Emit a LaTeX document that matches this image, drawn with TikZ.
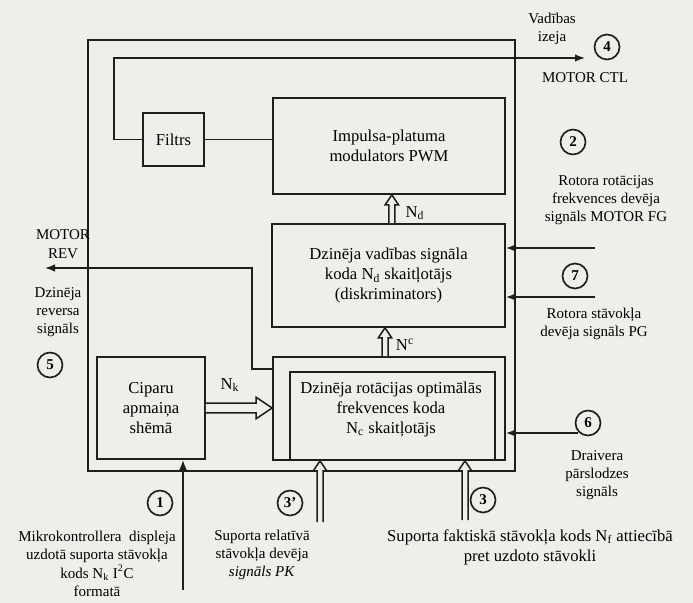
\documentclass[tikz,border=0pt]{standalone}
\usepackage{fontspec}
\setmainfont{Liberation Serif}
\usepackage{tikz}
\usetikzlibrary{arrows.meta,calc}
\definecolor{paper}{RGB}{238,238,235}
\definecolor{ink}{RGB}{30,30,30}
\tikzset{
  block/.style={rectangle,draw=ink,line width=1pt,align=center,inner sep=2pt},
  num/.style={circle,draw=ink,line width=1pt,minimum size=15pt,inner sep=0pt,font=\small\bfseries},
  sig/.style={-{Latex[length=6pt,width=4.5pt]},line width=0.9pt,draw=ink},
  wire/.style={line width=0.9pt,draw=ink},
  bus/.style={line width=0.9pt,draw=ink,fill=paper,line join=miter},
  note/.style={align=center,font=\small,inner sep=0pt},
}
% hollow bus arrow from #2 to #3, #1 = size factor
\newcommand{\busarrow}[3][1]{%
  \path ($(#3)!#1*6pt!(#2)$) coordinate (bh);
  \draw[bus] ($(#2)!#1*1.8pt!90:(#3)$) -- ($(bh)!#1*1.8pt!-90:(#2)$)
    -- ($(bh)!#1*4pt!-90:(#2)$) -- (#3) -- ($(bh)!#1*4pt!90:(#2)$)
    -- ($(bh)!#1*1.8pt!90:(#2)$) -- ($(#2)!#1*1.8pt!-90:(#3)$);}
\begin{document}
\begin{tikzpicture}[x=0.6pt,y=-0.6pt]
\fill[paper] (0,0) rectangle (693,603);
\useasboundingbox (0,0) rectangle (693,603);

% --- outer frame ---
\node[rectangle,draw=ink,line width=1pt,minimum width=256.2pt,minimum height=258.6pt] (frame) at (301.5,255.5) {};

% --- blocks ---
\node[block,minimum width=36.6pt,minimum height=31.8pt] (filtrs) at (173.5,139.5) {Filtrs};
\node[block,minimum width=139.2pt,minimum height=57.6pt] (pwm) at (389,146) {Impulsa-platuma\\modulators PWM};
\node[block,minimum width=139.8pt,minimum height=61.8pt] (discr) at (388.5,275.5) {Dzinēja vadības signāla\\koda N\textsubscript{d} skaitļotājs\\(diskriminators)};
\node[block,minimum width=64.8pt,minimum height=61.2pt] (ciparu) at (151,408) {Ciparu\\apmaiņa\\shēmā};
\node[block,minimum width=139.2pt,minimum height=61.8pt] (ncbox) at (389,408.5) {};
\node[block,minimum width=123pt,minimum height=52.8pt] (ncin) at (392.5,416) {};
\node[align=center] (nctext) at (391,409) {Dzinēja rotācijas optimālās\\frekvences koda\\N\textsubscript{c} skaitļotājs};

% --- bus labels ---
\node (lnk) at (230,385) {N\textsubscript{k}};
\node (lnd) at (415,213) {N\textsubscript{d}};
\node (lnc) at (405,345) {N\textsuperscript{c}};

% --- numbered points ---
\node[num] (c4) at (607,47) {4};
\node[num] (c2) at (573,142) {2};
\node[num] (c7) at (575,276) {7};
\node[num] (c5) at (50,365) {5};
\node[num] (c6) at (588,423) {6};
\node[num] (c1) at (160,503) {1};
\node[num] (c3p) at (290,503) {3'};
\node[num] (c3) at (483,500) {3};

% --- signal texts ---
\node[note] (vadibas) at (552,29) {Vadības\\izeja};
\node[note] (ctl) at (585,78) {MOTOR CTL};
\node[note] (fg) at (606,200) {Rotora rotācijas\\frekvences devēja\\signāls MOTOR FG};
\node[note] (pg) at (594,324) {Rotora stāvokļa\\devēja signāls PG};
\node[note] (rev) at (63,244) {MOTOR\\REV};
\node[note] (revtxt) at (58,312) {Dzinēja\\reversa\\signāls};
\node[note] (ovl) at (597,475) {Draivera\\pārslodzes\\signāls};
\node[note] (nktxt) at (97,564) {Mikrokontrollera\ \ displeja\\uzdotā suporta stāvokļa\\kods N\textsubscript{k} I\textsuperscript{2}C\\formatā};
\node[note] (pktxt) at (262,555) {Suporta relatīvā\\stāvokļa devēja\\\textit{signāls PK}};
\node[note,font=\normalsize] (nftxt) at (530,547) {Suporta faktiskā stāvokļa kods N\textsubscript{f} attiecībā\\pret uzdoto stāvokli};

% --- control output loop ---
\draw[wire] (filtrs.east) -- (filtrs.east -| pwm.west);
\coordinate (ctlout) at (585,58);
\draw[sig] (filtrs.west) -- ++(-28,0) |- (ctlout);

% --- reverse output ---
\coordinate (revout) at (45,268);
\draw[sig] ([yshift=-7.8pt]ncbox.north west) -- ++(-20,0) |- (revout);

% --- inputs from the right ---
\coordinate (fgin) at (595,248);
\coordinate (pgin) at (595,297);
\coordinate (ovin) at (578,433);
\draw[sig] (fgin) -- (fgin -| discr.east);
\draw[sig] (pgin) -- (pgin -| discr.east);
\draw[sig] (ovin) -- (ovin -| ncbox.east);

% --- input from below ---
\coordinate (nkin) at (183,590);
\draw[sig] (nkin) -- (nkin |- ciparu.south);

% --- code buses ---
\coordinate (ndtail) at ([xshift=2pt]discr.north);
\coordinate (ndtip) at (ndtail |- pwm.south);
\busarrow{ndtail}{ndtip}
\coordinate (nctail) at ([xshift=-2.4pt]ncbox.north);
\coordinate (nctip) at (nctail |- discr.south);
\busarrow{nctail}{nctip}
\coordinate (nktail) at (ciparu.east);
\coordinate (nktip) at (nktail -| ncbox.west);
\busarrow[1.6]{nktail}{nktip}
\coordinate (pktail) at (320,522);
\coordinate (pktip) at (pktail |- ncin.south);
\busarrow{pktail}{pktip}
\coordinate (nftail) at (465,520);
\coordinate (nftip) at (nftail |- ncin.south);
\busarrow{nftail}{nftip}
\end{tikzpicture}
\end{document}
